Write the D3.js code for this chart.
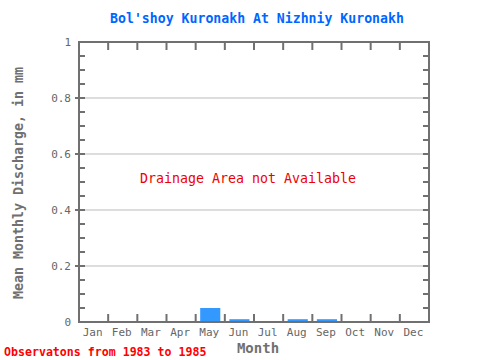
<!DOCTYPE html>
<html><head><meta charset="utf-8">
<script src="https://cdn.jsdelivr.net/npm/d3@7"></script>
<style>body{margin:0;background:#fff}svg{display:block}</style>
</head><body>
<script>
const months = ["Jan","Feb","Mar","Apr","May","Jun","Jul","Aug","Sep","Oct","Nov","Dec"];
const discharge = [0, 0, 0, 0, 0.05, 0.01, 0, 0.01, 0.01, 0, 0, 0];
const yTicks = [0, 0.2, 0.4, 0.6, 0.8, 1];
const yTickLabels = ["0", "0.2", "0.4", "0.6", "0.8", "1"];
const title = "Bol'shoy Kuronakh At Nizhniy Kuronakh";
const note = "Drainage Area not Available";
const footer = "Observatons from 1983 to 1985";

const W = 480, H = 360;
const m = {l: 79, r: 429, t: 42, b: 322};
const font = "'DejaVu Sans Mono', 'Liberation Mono', monospace";
const gray = "#707070";

const svg = d3.select("body").append("svg").attr("width", W).attr("height", H);
const x = d3.scaleBand().domain(months).range([m.l, m.r]).paddingInner(0.31).paddingOuter(0.155);
const xs = d3.scaleLinear().domain([0, 12]).range([m.l, m.r]);
const y = d3.scaleLinear().domain([0, 1]).range([m.b, m.t]);

// grid
svg.append("g").selectAll("line").data(yTicks.filter(d => d > 0 && d < 1)).join("line")
  .attr("x1", m.l).attr("x2", m.r).attr("y1", d => y(d)).attr("y2", d => y(d))
  .attr("stroke", "#bbb").attr("stroke-width", 1);

// bars
svg.append("g").selectAll("rect").data(months.map((mo, i) => ({mo, v: discharge[i]})).filter(d => d.v > 0)).join("rect")
  .attr("x", d => x(d.mo)).attr("width", x.bandwidth())
  .attr("y", d => y(d.v)).attr("height", d => y(0) - y(d.v))
  .attr("fill", "#3399ff");

// minor ticks on y (inward, both sides)
const minor = d3.range(0, 1.0001, 0.05);
const tg = svg.append("g").attr("stroke", gray).attr("stroke-width", 2);
minor.forEach(v => {
  tg.append("line").attr("x1", m.l).attr("x2", m.l + 6).attr("y1", y(v)).attr("y2", y(v));
  tg.append("line").attr("x1", m.r - 6).attr("x2", m.r).attr("y1", y(v)).attr("y2", y(v));
});
d3.range(1, 12).forEach(i => {
  tg.append("line").attr("x1", xs(i)).attr("x2", xs(i)).attr("y1", m.t).attr("y2", m.t + 8);
  tg.append("line").attr("x1", xs(i)).attr("x2", xs(i)).attr("y1", m.b).attr("y2", m.b - 8);
});
yTicks.filter(d => d > 0 && d < 1).forEach(v => {
  tg.append("line").attr("x1", m.l - 4).attr("x2", m.l).attr("y1", y(v)).attr("y2", y(v));
});

// frame
svg.append("rect").attr("x", m.l).attr("y", m.t).attr("width", m.r - m.l).attr("height", m.b - m.t)
  .attr("fill", "none").attr("stroke", gray).attr("stroke-width", 2);

// y tick labels
svg.append("g").selectAll("text").data(yTicks).join("text")
  .attr("x", 71).attr("y", d => y(d) + 4).attr("text-anchor", "end")
  .attr("font-family", font).attr("font-size", 11).attr("fill", "#666")
  .text((d, i) => yTickLabels[i]);

// x labels
svg.append("g").selectAll("text").data(months).join("text")
  .attr("x", d => x(d) + x.bandwidth() / 2 - 1).attr("y", 336).attr("text-anchor", "middle")
  .attr("font-family", font).attr("font-size", 11).attr("fill", "#666")
  .text(d => d);

// title
svg.append("text").attr("x", 257).attr("y", 23).attr("text-anchor", "middle")
  .attr("font-family", font).attr("font-size", 13.2).attr("font-weight", "bold").attr("fill", "#0066ff")
  .text(title);

// axis titles
svg.append("text").attr("x", 258).attr("y", 353).attr("text-anchor", "middle")
  .attr("font-family", font).attr("font-size", 14).attr("font-weight", "bold").attr("fill", "#707070").text("Month");
svg.append("text").attr("transform", "translate(23,183) rotate(-90)").attr("text-anchor", "middle")
  .attr("font-family", font).attr("font-size", 13.3).attr("font-weight", "bold").attr("fill", "#707070")
  .text("Mean Monthly Discharge, in mm");

// note
svg.append("text").attr("x", 248).attr("y", 183).attr("text-anchor", "middle")
  .attr("font-family", font).attr("font-size", 13.3).attr("fill", "#ee0000").text(note);

// footer
svg.append("text").attr("x", 4).attr("y", 356)
  .attr("font-family", font).attr("font-size", 11.6).attr("font-weight", "bold").attr("fill", "#ff0000").text(footer);
</script>
</body></html>
